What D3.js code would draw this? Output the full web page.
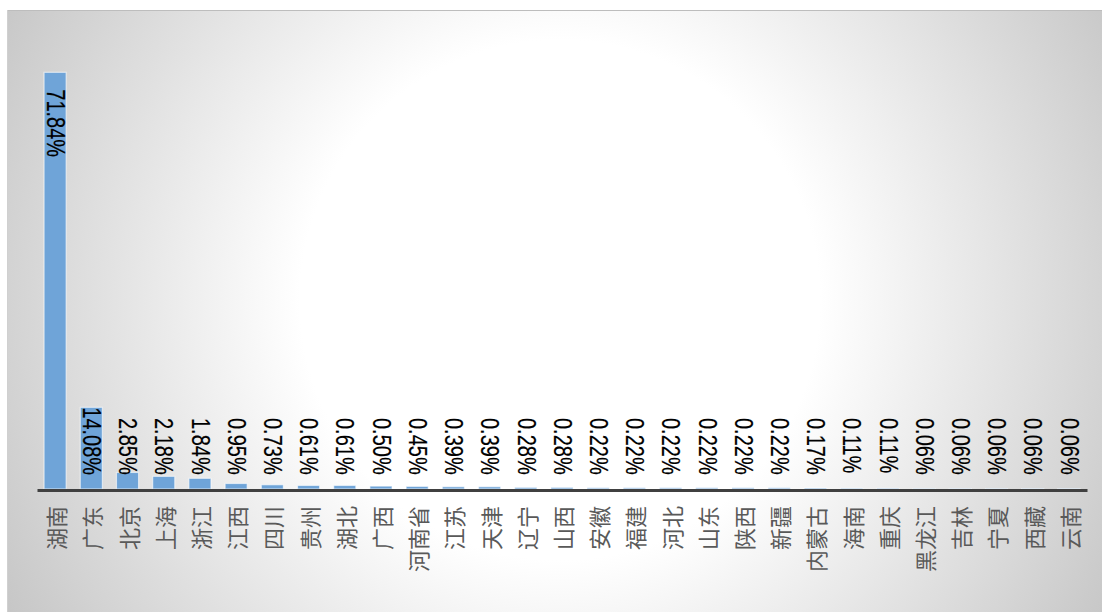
<!DOCTYPE html>
<html><head><meta charset="utf-8">
<script src="https://cdn.jsdelivr.net/npm/d3@7"></script>
<style>html,body{margin:0;padding:0;background:#fff;}svg{display:block;}</style>
</head><body>
<svg id="chart" width="1102" height="612"></svg>
<script>
const categories = ["湖南","广东","北京","上海","浙江","江西","四川","贵州","湖北","广西","河南省","江苏","天津","辽宁","山西","安徽","福建","河北","山东","陕西","新疆","内蒙古","海南","重庆","黑龙江","吉林","宁夏","西藏","云南"];
const values = [71.84,14.08,2.85,2.18,1.84,0.95,0.73,0.61,0.61,0.50,0.45,0.39,0.39,0.28,0.28,0.22,0.22,0.22,0.22,0.22,0.22,0.17,0.11,0.11,0.06,0.06,0.06,0.06,0.06];
const labels = values.map(v => v.toFixed(2) + "%");

const svg = d3.select("#chart");
const defs = svg.append("defs");
const grad = defs.append("radialGradient").attr("id","bg")
  .attr("gradientUnits","userSpaceOnUse")
  .attr("cx",560).attr("cy",300).attr("r",650);
grad.append("stop").attr("offset","0").attr("stop-color","#ffffff");
grad.append("stop").attr("offset","0.4").attr("stop-color","#ffffff");
grad.append("stop").attr("offset","1").attr("stop-color","#c4c4c4");

svg.append("rect").attr("x",7).attr("y",10).attr("width",1095).attr("height",602).attr("fill","url(#bg)");
svg.append("line").attr("x1",7).attr("x2",1102).attr("y1",10.5).attr("y2",10.5).attr("stroke","#bdbdbd").attr("stroke-width",1);
svg.append("line").attr("x1",7.5).attr("x2",7.5).attr("y1",10).attr("y2",612).attr("stroke","#d0d0d0").attr("stroke-width",1);

const x = d3.scaleBand().domain(categories).range([37,1087]).paddingInner(0.39).paddingOuter(0.195);
const y = d3.scaleLinear().domain([0,80]).range([489,25]);

svg.append("g").selectAll("rect").data(values).join("rect")
  .attr("x",(d,i)=>x(categories[i]))
  .attr("width",x.bandwidth())
  .attr("y",d=>y(d))
  .attr("height",d=>y(0)-y(d))
  .attr("fill","#6fa4d8")
  .attr("stroke","#ffffff").attr("stroke-opacity",0.6).attr("stroke-width",1.2);

const axis = d3.axisBottom(x).tickSize(0).tickFormat("");
const ag = svg.append("g").attr("transform",`translate(0,${y(0)+1})`).call(axis);
ag.select(".domain").attr("stroke","#404040").attr("stroke-width",3);

svg.append("g").selectAll("text").data(categories).join("text")
  .attr("transform",(d)=>`translate(${x(d)+x.bandwidth()/2},506) rotate(-90)`)
  .attr("text-anchor","end").attr("dominant-baseline","central")
  .attr("font-family","'Noto Sans CJK SC', sans-serif").attr("font-size",22)
  .attr("fill","#595959").text(d=>d);

svg.append("g").selectAll("text").data(values).join("text")
  .attr("transform",(d,i)=>{
    const cx = x(categories[i])+x.bandwidth()/2;
    const top = y(d);
    let ys = (i===0) ? top+17 : Math.min(top, 418);
    return `translate(${cx},${ys}) rotate(90) scale(0.8,1)`;
  })
  .attr("text-anchor","start").attr("dominant-baseline","central")
  .attr("font-family","'Liberation Sans', Arial, sans-serif").attr("font-size",25)
  .attr("fill","#000").attr("stroke","#000").attr("stroke-width",0.2)
  .text((d,i)=>labels[i]);
</script>
</body></html>
